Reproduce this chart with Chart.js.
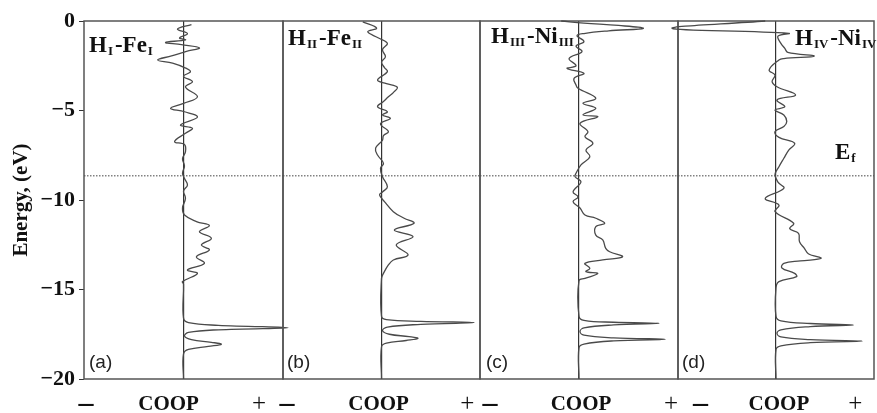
<!DOCTYPE html>
<html>
<head>
<meta charset="utf-8">
<script src="https://cdn.jsdelivr.net/npm/chart.js@4.4.1/dist/chart.umd.min.js"></script>
<style>
    html, body { margin: 0; padding: 0; background: #fff; }
    #wrap { position: relative; width: 877px; height: 413px; overflow: hidden; }
    #wrap canvas { position: absolute; left: 0; top: 0; }
</style>
</head>
<body>
<div id="wrap">
    <canvas id="pa" width="877" height="413"></canvas>
    <canvas id="pb" width="877" height="413"></canvas>
    <canvas id="pc" width="877" height="413"></canvas>
    <canvas id="pd" width="877" height="413"></canvas>
</div>
<script>
// --- DATA (energy in eV, COOP in arbitrary units) ---
const energyTicks = [0, -5, -10, -15, -20];
const fermiLevel = -8.65;

const energyA = [-0.2, -0.45, -0.7, -0.95, -1.05, -1.2, -1.32, -1.5, -1.7, -1.95, -2.18, -2.35, -2.6, -2.83, -3.09, -3.39, -3.69, -4.23, -4.6, -4.88, -5.07, -5.37, -5.81, -5.99, -6.27, -6.74, -6.9, -7.3, -7.7, -8.1, -8.5, -8.8, -9.16, -9.5, -9.9, -10.45, -10.84, -11.21, -11.43, -11.77, -12.14, -12.51, -12.79, -13.17, -13.54, -13.91, -14.1, -14.56, -14.7, -16.6, -16.85, -17.0, -17.13, -17.25, -17.4, -17.6, -17.8, -17.95, -18.06, -18.18, -18.35, -18.6, -20];
const coopA = [8, -6, 4, -4, 2, -18, -2, 16, 3, -12, -26, -11, 1, 7, 0, 9, 2, 14, 0, -13, 1, 14, -3, 9, 2, -9, 1, 2, -1, 1, -1, 1, 4, 0, 2, -1, 1, 13, 26, 16, 28, 18, 26, 13, 21, 4, 14, -1, 0, 0, 5, 35, 105, 35, 5, 1, 8, 28, 38, 25, 5, 0, 0];

const energyB = [-0.05, -0.4, -0.6, -0.95, -1.25, -1.6, -2.0, -2.3, -2.6, -2.83, -3.3, -3.5, -3.7, -4.0, -4.23, -4.5, -4.79, -5.07, -5.25, -5.44, -5.75, -6.18, -6.4, -6.65, -7.11, -7.49, -7.95, -8.23, -8.7, -9.26, -9.55, -9.72, -10.09, -10.65, -11.02, -11.3, -11.68, -12.05, -12.51, -13.07, -13.35, -13.63, -14.1, -14.38, -16.5, -16.68, -16.78, -16.85, -16.95, -17.1, -17.3, -17.5, -17.63, -17.73, -17.85, -18.0, -18.2, -20];
const coopB = [-19, -5, -14, -3, 6, 1, 4, 0, 3, 6, -4, 5, 16, 12, 7, 2, -4, 6, 1, 9, -1, 7, 2, 1, -6, -4, 2, -1, 1, 6, 1, -2, 3, 12, 23, 33, 13, 32, 15, 27, 12, 7, 2, 0, 0, 5, 40, 94, 40, 6, 1, 8, 28, 37, 25, 5, 0, 0];

const energyC = [0.0, -0.12, -0.25, -0.41, -0.55, -0.7, -0.82, -1.15, -1.4, -1.71, -2.09, -2.5, -2.65, -2.92, -3.2, -3.58, -3.76, -4.32, -4.6, -4.88, -5.25, -5.35, -5.72, -6.18, -6.46, -6.83, -7.21, -7.58, -8.04, -8.51, -8.7, -8.98, -9.54, -9.83, -10.09, -10.45, -10.84, -11.02, -11.3, -11.49, -11.96, -12.23, -12.7, -12.89, -13.17, -13.35, -13.54, -13.82, -14.0, -14.1, -14.38, -14.5, -16.5, -16.72, -16.83, -16.89, -16.98, -17.15, -17.35, -17.55, -17.7, -17.78, -17.87, -18.05, -18.25, -20];
const coopC = [-18, 5, 40, 65, 30, 5, -2, 5, -3, 3, -10, -3, -12, 5, -5, -3, -1, 17, 4, 17, 4, 19, 1, 9, 6, 14, 7, 11, 2, -3, -4, 2, -6, -1, -6, 1, 6, 17, 26, 17, 17, 24, 27, 31, 44, 24, 6, 11, 7, 19, 6, 0, 0, 5, 35, 81, 35, 5, 1, 5, 35, 87, 35, 5, 0, 0];

const energyD = [0.0, -0.41, -0.69, -0.85, -1.25, -1.53, -1.75, -1.96, -2.1, -2.18, -2.74, -3.02, -3.39, -3.67, -4.13, -4.41, -4.79, -4.97, -5.25, -5.62, -5.9, -6.18, -6.5, -6.83, -7.21, -7.67, -8.14, -8.57, -9.0, -9.35, -9.91, -10.28, -10.65, -11.3, -11.6, -11.86, -12.33, -12.7, -13.0, -13.26, -13.4, -13.54, -13.8, -14.1, -14.28, -14.56, -14.9, -16.5, -16.75, -16.9, -16.98, -17.07, -17.25, -17.45, -17.65, -17.8, -17.88, -17.97, -18.15, -18.35, -20];
const coopD = [-11, -106, 13, 2, 5, 9, 12, 39, 8, 3, -7, -1, -4, 1, 20, 1, 9, -1, 8, 11, 8, -1, 3, 19, 13, 8, 3, -1, 2, 8, -11, 3, -1, 18, 14, 23, 24, 29, 33, 46, 25, 8, 6, 19, 21, 3, 0, 0, 5, 35, 79, 35, 5, 1, 5, 35, 88, 35, 5, 0, 0];

const panelTags = ['(a)', '(b)', '(c)', '(d)'];
const panelTitles = [
    [['H'], ['I', 1], ['-Fe'], ['I', 1]],
    [['H'], ['II', 1], ['-Fe'], ['II', 1]],
    [['H'], ['III', 1], ['-Ni'], ['III', 1]],
    [['H'], ['IV', 1], ['-Ni'], ['IV', 1]]
];
const fermiLabel = [['E'], ['f', 1]];

// --- LAYOUT ---
const SERIF = "'Liberation Serif', 'Times New Roman', serif";
const SANS = "'Liberation Sans', Arial, sans-serif";
const W = 877;
const panels = [
    { id: 'pa', left: 84, right: 283, energy: energyA, coop: coopA, title: [89, 52], tag: [89, 368],
      ticks: [{ v: -98, lbl: '–' }, { v: -15, lbl: 'COOP' }, { v: 0, lbl: '' }, { v: 76, lbl: '+' }] },
    { id: 'pb', left: 283, right: 480, energy: energyB, coop: coopB, title: [288, 45], tag: [287, 368],
      ticks: [{ v: -96, lbl: '–' }, { v: -3, lbl: 'COOP' }, { v: 0, lbl: '' }, { v: 87, lbl: '+' }] },
    { id: 'pc', left: 480, right: 678, energy: energyC, coop: coopC, title: [491, 43], tag: [486, 368],
      ticks: [{ v: -90, lbl: '–' }, { v: 0, lbl: '' }, { v: 2, lbl: 'COOP' }, { v: 93, lbl: '+' }] },
    { id: 'pd', left: 678, right: 874, energy: energyD, coop: coopD, title: [795, 45], tag: [682, 368],
      ticks: [{ v: -77, lbl: '–' }, { v: 0, lbl: '' }, { v: 3, lbl: 'COOP' }, { v: 81, lbl: '+' }] }
];

function drawRich(ctx, x, y, parts, size) {
    let cx = x;
    parts.forEach(([txt, sub]) => {
        ctx.font = `bold ${sub ? Math.round(size * 0.58) : size}px ${SERIF}`;
        ctx.fillText(txt, cx, sub ? y + 3 : y);
        cx += ctx.measureText(txt).width + (sub ? 2 : 1);
    });
}

const framePlugin = {
    id: 'frame',
    beforeDatasetsDraw(chart) {
        const { ctx, chartArea: a, scales } = chart;
        ctx.save();
        // Ef dotted line
        const yf = scales.y.getPixelForValue(fermiLevel);
        ctx.strokeStyle = '#444';
        ctx.lineWidth = 1;
        ctx.setLineDash([1.5, 1.5]);
        ctx.beginPath();
        ctx.moveTo(a.left, yf);
        ctx.lineTo(a.right, yf);
        ctx.stroke();
        ctx.setLineDash([]);
        // panel frame
        ctx.strokeStyle = '#555';
        ctx.lineWidth = 1.5;
        ctx.strokeRect(a.left, a.top, a.right - a.left, a.bottom - a.top);
        ctx.restore();
    },
    afterDraw(chart) {
        const p = chart.options.plugins.frame;
        const ctx = chart.ctx;
        ctx.save();
        ctx.fillStyle = '#111';
        ctx.textBaseline = 'alphabetic';
        ctx.textAlign = 'left';
        drawRich(ctx, p.title[0], p.title[1], panelTitles[p.index], 23);
        if (p.index === 3) drawRich(ctx, 835, 159, fermiLabel, 23);
        ctx.font = `19px ${SANS}`;
        ctx.fillStyle = '#222';
        ctx.fillText(panelTags[p.index], p.tag[0], p.tag[1]);
        ctx.restore();
    }
};

panels.forEach((p, idx) => {
    const first = idx === 0;
    new Chart(document.getElementById(p.id), {
        type: 'line',
        data: {
            datasets: [{
                data: p.energy.map((e, i) => ({ x: p.coop[i], y: e })),
                borderColor: '#4a4a4a',
                borderWidth: 1.3,
                pointRadius: 0,
                tension: 0.4,
                fill: false,
                clip: false
            }]
        },
        options: {
            responsive: false,
            animation: false,
            events: [],
            layout: { padding: { left: first ? 0 : p.left, right: W - p.right, top: 21, bottom: 0 } },
            plugins: {
                legend: { display: false },
                tooltip: { enabled: false },
                frame: { index: idx, title: p.title, tag: p.tag }
            },
            scales: {
                x: {
                    type: 'linear', min: -100, max: 100,
                    afterFit: s => { s.height = 34; s.paddingLeft = 0; s.paddingRight = 0; },
                    afterBuildTicks: s => { s.ticks = p.ticks.map(t => ({ value: t.v, lbl: t.lbl })); },
                    ticks: {
                        autoSkip: false, maxRotation: 0, padding: 13, color: '#111',
                        callback: (v, i, ticks) => ticks[i].lbl,
                        font: c => {
                            const l = c.tick ? c.tick.lbl : '';
                            if (l === '–') return { family: SERIF, size: 30, weight: 'bold', lineHeight: '25px' };
                            if (l === '+') return { family: SERIF, size: 25, weight: 'normal', lineHeight: '25px' };
                            return { family: SERIF, size: 21, weight: 'bold', lineHeight: '25px' };
                        }
                    },
                    grid: {
                        drawTicks: false,
                        lineWidth: 1.2,
                        color: c => (c.tick && c.tick.value === 0) ? '#333' : 'rgba(0,0,0,0)'
                    },
                    border: { display: false }
                },
                y: {
                    type: 'linear', min: -20, max: 0, position: 'left', display: first,
                    afterBuildTicks: s => { s.ticks = energyTicks.map(v => ({ value: v })); },
                    afterFit: s => { s.width = first ? 84 : 0; },
                    ticks: {
                        padding: 4, color: '#111',
                        font: { family: SERIF, size: 22, weight: 'bold' },
                        callback: v => v === 0 ? '0' : '\u2212' + Math.abs(v)
                    },
                    grid: { drawOnChartArea: false, drawTicks: true, tickLength: 5, color: '#333' },
                    border: { display: false },
                    title: {
                        display: true, text: 'Energy, (eV)', color: '#111',
                        font: { family: SERIF, size: 21, weight: 'bold' },
                        padding: { top: 9, bottom: 0 }
                    }
                }
            }
        },
        plugins: [framePlugin]
    });
});
</script>
</body>
</html>
